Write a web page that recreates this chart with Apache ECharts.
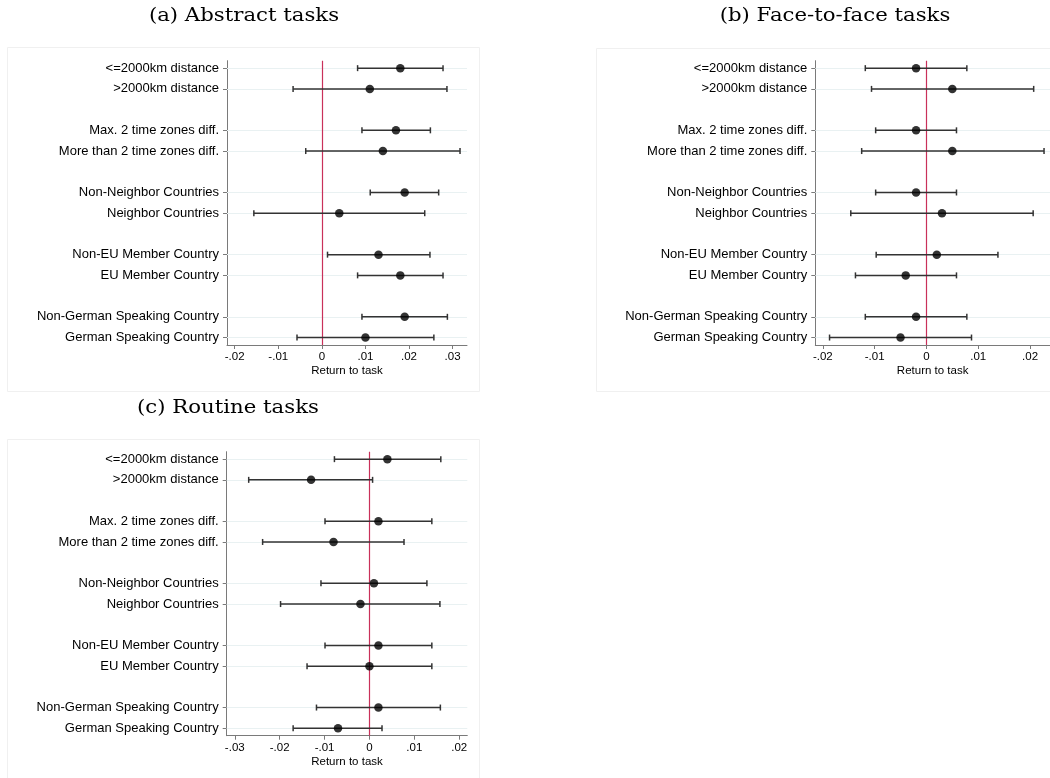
<!DOCTYPE html>
<html>
<head>
<meta charset="utf-8">
<script src="https://cdn.jsdelivr.net/npm/echarts@6/dist/echarts.min.js"></script>
<style>html,body{margin:0;padding:0;background:#fff}#chart{width:1050px;height:778px}</style>
</head>
<body>
<div id="chart"></div>
<script>
// ---- data ----
const rowLabels = ['<=2000km distance', '>2000km distance', 'Max. 2 time zones diff.', 'More than 2 time zones diff.',
  'Non-Neighbor Countries', 'Neighbor Countries', 'Non-EU Member Country', 'EU Member Country',
  'Non-German Speaking Country', 'German Speaking Country'];
const rowSlots = [0, 1, 3, 4, 6, 7, 9, 10, 12, 13];

const titles = ['(a) Abstract tasks', '(b) Face-to-face tasks', '(c) Routine tasks'];
const xAxisTitle = 'Return to task';

const estA  = [0.018, 0.011, 0.017, 0.014, 0.019, 0.004, 0.013, 0.018, 0.019, 0.010];
const lowA  = [0.0082, -0.0066, 0.0092, -0.0037, 0.0111, -0.0156, 0.0013, 0.0082, 0.0092, -0.0057];
const highA = [0.0278, 0.0287, 0.0249, 0.0317, 0.0268, 0.0236, 0.0248, 0.0278, 0.0288, 0.0257];

const estB  = [-0.002, 0.005, -0.002, 0.005, -0.002, 0.003, 0.002, -0.004, -0.002, -0.005];
const lowB  = [-0.0118, -0.0106, -0.0098, -0.0125, -0.0098, -0.0146, -0.0097, -0.0137, -0.0118, -0.0187];
const highB = [0.0078, 0.0207, 0.0058, 0.0227, 0.0058, 0.0206, 0.0138, 0.0058, 0.0078, 0.0087];

const estC  = [0.004, -0.013, 0.002, -0.008, 0.001, -0.002, 0.002, 0.000, 0.002, -0.007];
const lowC  = [-0.0078, -0.0269, -0.0099, -0.0238, -0.0108, -0.0198, -0.0099, -0.0139, -0.0118, -0.017];
const highC = [0.0159, 0.0007, 0.0139, 0.0077, 0.0128, 0.0157, 0.0139, 0.0139, 0.0158, 0.0028];

const xTicksA = [-0.02, -0.01, 0, 0.01, 0.02, 0.03];
const xTicksB = [-0.02, -0.01, 0, 0.01, 0.02];
const xTicksC = [-0.03, -0.02, -0.01, 0, 0.01, 0.02];
const xRangeA = [-0.02176, 0.0333];
const xRangeB = [-0.02145, 0.02385];
const xRangeC = [-0.0318, 0.0218];

// ---- build ----
const panels = [
  {est: estA, low: lowA, high: highA, ticks: xTicksA, range: xRangeA, grid: {left: 227, top: 60.7, width: 240, height: 284.3}},
  {est: estB, low: lowB, high: highB, ticks: xTicksB, range: xRangeB, grid: {left: 815.3, top: 60.7, width: 240, height: 284.3}},
  {est: estC, low: lowC, high: highC, ticks: xTicksC, range: xRangeC, grid: {left: 226.7, top: 451.7, width: 240.6, height: 284}}
];

const labelFont = 'Liberation Sans, Arial, sans-serif';
const fmtX = v => {
  const r = Math.round(v * 100) / 100;
  if (r === 0) return '0';
  return r.toString().replace('0.', '.');
};
const slotToLabel = {};
rowSlots.forEach((s, i) => { slotToLabel[s] = rowLabels[i]; });

const axisGray = '#7a7a7a';
const grids = [], xAxes = [], yAxes = [], series = [];
panels.forEach((p, k) => {
  grids.push(p.grid);
  xAxes.push({
    type: 'value', gridIndex: k, min: p.range[0], max: p.range[1],
    name: xAxisTitle, nameLocation: 'middle', nameGap: 20,
    nameTextStyle: {fontFamily: labelFont, fontSize: 11.5, color: '#000'},
    axisLine: {show: true, onZero: false, lineStyle: {color: axisGray, width: 1}},
    axisTick: {show: true, length: 4, customValues: p.ticks, lineStyle: {color: axisGray}},
    axisLabel: {customValues: p.ticks, formatter: fmtX, margin: 6, fontFamily: labelFont, fontSize: 11.5, color: '#000'},
    splitLine: {show: false}
  });
  yAxes.push({
    type: 'value', gridIndex: k, inverse: true, min: -0.36, max: 13.36,
    axisLine: {show: true, onZero: false, lineStyle: {color: axisGray, width: 1}},
    axisTick: {show: true, length: 4, customValues: rowSlots, lineStyle: {color: axisGray}},
    axisLabel: {customValues: rowSlots, formatter: v => slotToLabel[Math.round(v)] || '', margin: 8,
      fontFamily: labelFont, fontSize: 13, color: '#000'},
    splitLine: {show: false}
  });
  const ciData = p.est.map((e, i) => [p.low[i], p.high[i], rowSlots[i]]);
  series.push({
    type: 'custom', xAxisIndex: k, yAxisIndex: k, z: 3,
    data: ciData,
    encode: {x: [0, 1], y: 2},
    renderItem: (params, api) => {
      const a = api.coord([api.value(0), api.value(2)]);
      const b = api.coord([api.value(1), api.value(2)]);
      const h = 3;
      const st = {stroke: '#333333', lineWidth: 1.5};
      return {type: 'group', children: [
        {type: 'line', shape: {x1: a[0], y1: a[1], x2: b[0], y2: b[1]}, style: st},
        {type: 'line', shape: {x1: a[0], y1: a[1] - h, x2: a[0], y2: a[1] + h}, style: st},
        {type: 'line', shape: {x1: b[0], y1: b[1] - h, x2: b[0], y2: b[1] + h}, style: st}
      ]};
    }
  });
  series.push({
    type: 'scatter', xAxisIndex: k, yAxisIndex: k, z: 4,
    symbol: 'circle', symbolSize: 8.5, itemStyle: {color: '#000'},
    data: p.est.map((e, i) => [e, rowSlots[i]]),
    markLine: {
      silent: true, symbol: 'none', animation: false, label: {show: false}, z: 1,
      data: rowSlots.map(s => ({yAxis: s, lineStyle: {color: '#e9f1f2', width: 1, type: 'solid'}}))
        .concat([{xAxis: 0, lineStyle: {color: '#c9305a', width: 1.2, type: 'solid'}}])
    }
  });
});

const titleFont = '"DejaVu Serif", "Liberation Serif", serif';
const titleStyle = t => ({text: t, font: '18px ' + titleFont, fill: '#000', textAlign: 'center', textVerticalAlign: 'middle'});
const chart = echarts.init(document.getElementById('chart'), null, {renderer: 'canvas'});
chart.setOption({
  backgroundColor: '#fff',
  animation: false,
  grid: grids, xAxis: xAxes, yAxis: yAxes, series: series,
  graphic: [
    {type: 'rect', shape: {x: 7.5, y: 47.5, width: 472, height: 344}, style: {fill: 'none', stroke: '#f0f0f0', lineWidth: 1}, z: -1},
    {type: 'rect', shape: {x: 596.5, y: 48.5, width: 470, height: 343}, style: {fill: 'none', stroke: '#f0f0f0', lineWidth: 1}, z: -1},
    {type: 'rect', shape: {x: 7.5, y: 439.5, width: 472, height: 345}, style: {fill: 'none', stroke: '#f0f0f0', lineWidth: 1}, z: -1},
    {type: 'text', x: 244, y: 16.5, scaleX: 1.18, style: titleStyle(titles[0])},
    {type: 'text', x: 835, y: 16.5, scaleX: 1.18, style: titleStyle(titles[1])},
    {type: 'text', x: 228, y: 408.5, scaleX: 1.18, style: titleStyle(titles[2])}
  ]
});
</script>
</body>
</html>
